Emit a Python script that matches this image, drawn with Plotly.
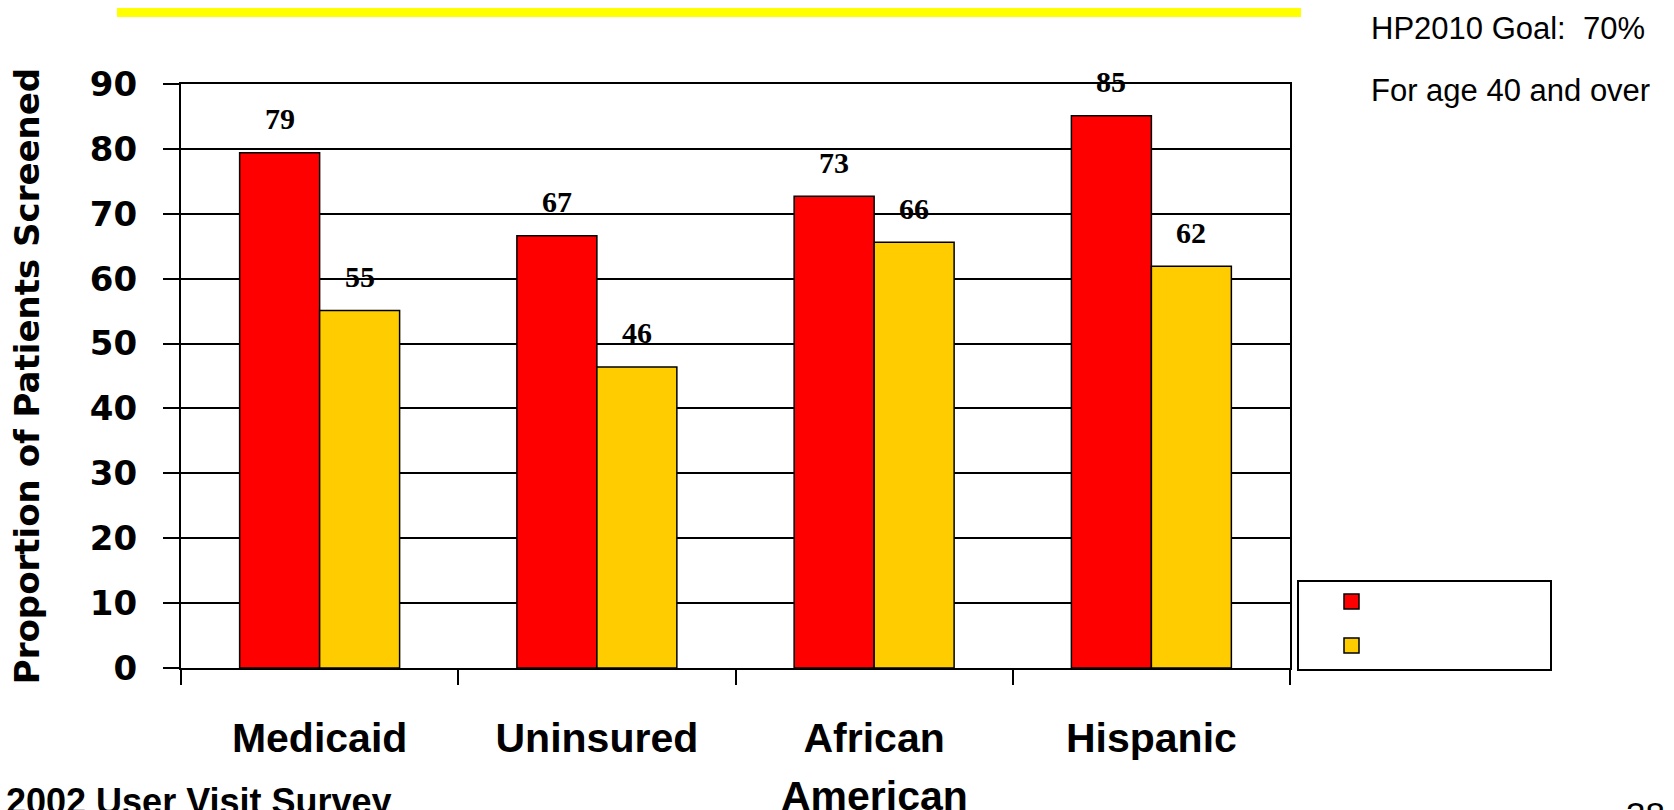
import plotly.graph_objects as go

# ---- data -------------------------------------------------------------
categories = ["Medicaid", "Uninsured", "African American", "Hispanic"]
category_first_line = ["Medicaid", "Uninsured", "African", "Hispanic"]
category_second_line = {"African American": "American"}
series_names = ["Series 1", "Series 2"]
series_red = [79.4, 66.6, 72.7, 85.1]
series_gold = [55.1, 46.4, 65.6, 61.9]
y_tick_values = [0, 10, 20, 30, 40, 50, 60, 70, 80, 90]
goal_text = "HP2010 Goal:  70%"
age_text = "For age 40 and over"
source_text = "2002 User Visit Survey"
page_number = "38"

# ---- page geometry (pixels) ------------------------------------------
W, H = 1674, 810
L, R, T, B = 181, 384, 84, 142
PW, PH = W - L - R, H - T - B

RED = "#FF0000"
GOLD = "#FFCC00"
LABEL_FONT = dict(family="Liberation Sans", size=41, color="black", weight="bold")


def px(x):
    """Pixel x -> paper x."""
    return (x - L) / PW


def py(y):
    """Pixel y (from top) -> paper y."""
    return (H - B - y) / PH


fig = go.Figure()
for name, vals, col, shift in [
    (series_names[0], series_red, RED, -40),
    (series_names[1], series_gold, GOLD, 40),
]:
    fig.add_trace(
        go.Bar(
            x=categories,
            y=vals,
            name=name,
            marker=dict(color=col, line=dict(color="black", width=1.5)),
            showlegend=False,
        )
    )
    # value labels above each bar
    for c, v in zip(categories, vals):
        fig.add_annotation(
            x=c, y=v, xref="x", yref="y",
            text=f"{v:.0f}", showarrow=False,
            xshift=shift, yshift=34, yanchor="middle",
            font=dict(family="Liberation Serif", size=30, color="black", weight="bold"),
        )

# second line of the two-line category name, set further down
for c, extra in category_second_line.items():
    fig.add_annotation(
        x=c, xref="x", y=py(796), yref="paper",
        text=extra, showarrow=False, yanchor="middle",
        font=LABEL_FONT,
    )

# legend box drawn as shapes (no entry text)
shapes = [
    dict(type="rect", xref="paper", yref="paper",
         x0=px(1298), x1=px(1551), y0=py(670), y1=py(581),
         line=dict(color="black", width=2), fillcolor="white", layer="above"),
    dict(type="rect", xref="paper", yref="paper",
         x0=px(1344), x1=px(1359), y0=py(609), y1=py(594),
         line=dict(color="black", width=1.5), fillcolor=RED, layer="above"),
    dict(type="rect", xref="paper", yref="paper",
         x0=px(1344), x1=px(1359), y0=py(653), y1=py(638),
         line=dict(color="black", width=1.5), fillcolor=GOLD, layer="above"),
    # yellow header rule
    dict(type="rect", xref="paper", yref="paper",
         x0=px(117), x1=px(1301), y0=py(17), y1=py(8),
         line=dict(width=0), fillcolor="#FFFF00", layer="above"),
]

notes = [
    dict(text=goal_text, x=px(1369), y=py(28), size=31, bold=False),
    dict(text=age_text, x=px(1369), y=py(90), size=31, bold=False),
    dict(text=source_text, x=px(4), y=py(801), size=36, bold=True),
    dict(text=page_number, x=px(1624), y=py(814), size=35, bold=False),
]
for n in notes:
    fig.add_annotation(
        x=n["x"], y=n["y"], xref="paper", yref="paper",
        text=n["text"], showarrow=False, xanchor="left", yanchor="middle",
        font=dict(family="Liberation Sans", size=n["size"], color="black",
                  weight="bold" if n["bold"] else "normal"),
    )

fig.update_layout(
    width=W, height=H,
    margin=dict(l=L, r=R, t=T, b=B, pad=0),
    paper_bgcolor="white", plot_bgcolor="white",
    barmode="group", bargap=0.423, bargroupgap=0,
    shapes=shapes,
    showlegend=False,
)

fig.update_xaxes(
    tickmode="array", tickvals=categories, ticktext=category_first_line,
    tickson="boundaries", ticks="outside", ticklen=15, tickwidth=2, tickcolor="black",
    showline=True, linecolor="black", linewidth=2, mirror=True,
    showgrid=False, ticklabelstandoff=33,
    tickfont=LABEL_FONT,
)
fig.update_yaxes(
    range=[0, 90], tickmode="array", tickvals=y_tick_values,
    ticks="outside", ticklen=16, tickwidth=2, tickcolor="black",
    showline=True, linecolor="black", linewidth=2, mirror=True,
    showgrid=True, gridcolor="black", gridwidth=2, zeroline=False,
    ticklabelstandoff=19,
    tickfont=dict(family="DejaVu Sans", size=34, color="black", weight="bold"),
    title=dict(text="Proportion of Patients Screened", standoff=40,
               font=dict(family="DejaVu Sans", size=34, color="black", weight="bold")),
)

fig.write_html("out.html")
